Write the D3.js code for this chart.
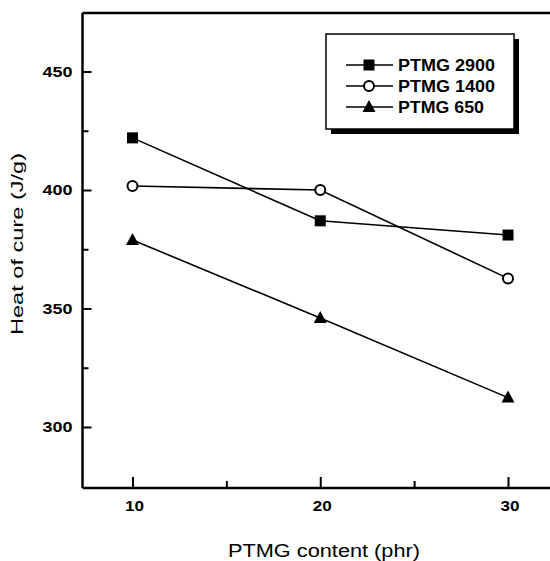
<!DOCTYPE html>
<html><head><meta charset="utf-8">
<script src="https://cdn.jsdelivr.net/npm/d3@7"></script>
<style>body{margin:0;background:#fff}</style>
</head><body>
<svg id="c" width="550" height="561"></svg>
<script>
const xValues = [10, 20, 30];
const seriesNames = ["PTMG 2900", "PTMG 1400", "PTMG 650"];
const series2900 = [422, 387, 381];
const series1400 = [401.7, 400, 362.7];
const series650 = [378.9, 346, 312.4];
const yTicks = [300, 350, 400, 450];
const xTicks = [10, 20, 30];

const svg = d3.select("#c");
const L = 82.5, T = 13, B = 488;
const x = d3.scaleLinear().domain([10, 30]).range([132.5, 508]);
const y = d3.scaleLinear().domain([300, 400]).range([427, 190]);
const font = "'Liberation Sans', Arial, sans-serif";

svg.append("line").attr("x1", L).attr("x2", 560).attr("y1", T).attr("y2", T).attr("stroke", "#000").attr("stroke-width", 2.5);

const yAxis = d3.axisLeft(y).tickValues(d3.range(300, 475, 25)).tickSize(-8).tickFormat(d => yTicks.includes(d) ? d : "");
const gy = svg.append("g").attr("transform", `translate(${L},0)`).call(yAxis);
gy.select(".domain").attr("stroke", "#000").attr("stroke-width", 2.5).attr("d", `M0,${T}V${B}`);
gy.selectAll(".tick line").attr("stroke", "#000").attr("stroke-width", 2).attr("x2", d => yTicks.includes(d) ? 9 : 6);
gy.selectAll(".tick text").attr("x", -10).attr("fill", "#000").attr("font-family", font).attr("font-weight", "bold").attr("font-size", 15)
  .attr("textLength", d => yTicks.includes(d) ? 30 : null).attr("lengthAdjust", "spacingAndGlyphs");

const xAxis = d3.axisBottom(x).tickValues([10, 15, 20, 25, 30]).tickFormat(d => xTicks.includes(d) ? d : "");
const gx = svg.append("g").attr("transform", `translate(0,${B})`).call(xAxis);
gx.select(".domain").attr("stroke", "#000").attr("stroke-width", 2.5).attr("d", `M${L},0H560`);
gx.selectAll(".tick line").attr("stroke", "#000").attr("stroke-width", 2).attr("y2", d => xTicks.includes(d) ? -11 : -7);
gx.selectAll(".tick text").attr("y", 12).attr("x", 1.5).attr("fill", "#000").attr("font-family", font).attr("font-weight", "bold").attr("font-size", 15)
  .attr("textLength", d => xTicks.includes(d) ? 19 : null).attr("lengthAdjust", "spacingAndGlyphs");

svg.append("text").attr("x", 324).attr("y", 557).attr("text-anchor", "middle").attr("font-family", font).attr("font-size", 18)
  .attr("textLength", 192).attr("lengthAdjust", "spacingAndGlyphs").text("PTMG content (phr)");
svg.append("text").attr("transform", "translate(23,244) rotate(-90)").attr("text-anchor", "middle").attr("font-family", font).attr("font-size", 17)
  .attr("textLength", 182).attr("lengthAdjust", "spacingAndGlyphs").text("Heat of cure (J/g)");

const all = [series2900, series1400, series650];
const line = d3.line().x((d, i) => x(xValues[i])).y(d => y(d));
all.forEach(s => svg.append("path").attr("d", line(s)).attr("fill", "none").attr("stroke", "#000").attr("stroke-width", 1.6));

function marker(g, k, cx, cy) {
  if (k === 0) g.append("rect").attr("x", cx - 5.5).attr("y", cy - 5.5).attr("width", 11).attr("height", 11).attr("fill", "#000");
  else if (k === 1) g.append("circle").attr("cx", cx).attr("cy", cy).attr("r", 5).attr("fill", "#fff").attr("stroke", "#000").attr("stroke-width", 2);
  else g.append("path").attr("d", `M${cx},${cy - 7}L${cx + 6.5},${cy + 5}L${cx - 6.5},${cy + 5}Z`).attr("fill", "#000");
}
all.forEach((s, k) => s.forEach((v, i) => marker(svg, k, x(xValues[i]), y(v))));

const lg = svg.append("g");
lg.append("rect").attr("x", 331).attr("y", 39).attr("width", 188).attr("height", 95).attr("fill", "#000");
lg.append("rect").attr("x", 326).attr("y", 34).attr("width", 188).attr("height", 95).attr("fill", "#fff").attr("stroke", "#000").attr("stroke-width", 1.5);
seriesNames.forEach((n, k) => {
  const yy = 65 + k * 21;
  lg.append("line").attr("x1", 346).attr("x2", 393).attr("y1", yy).attr("y2", yy).attr("stroke", "#000").attr("stroke-width", 1.5);
  marker(lg, k, 369, yy);
  lg.append("text").attr("x", 398).attr("y", yy + 6).attr("font-family", font).attr("font-weight", "bold").attr("font-size", 16)
    .attr("textLength", n.length === 9 ? 97 : 86).attr("lengthAdjust", "spacingAndGlyphs").text(n);
});
</script>
</body></html>
